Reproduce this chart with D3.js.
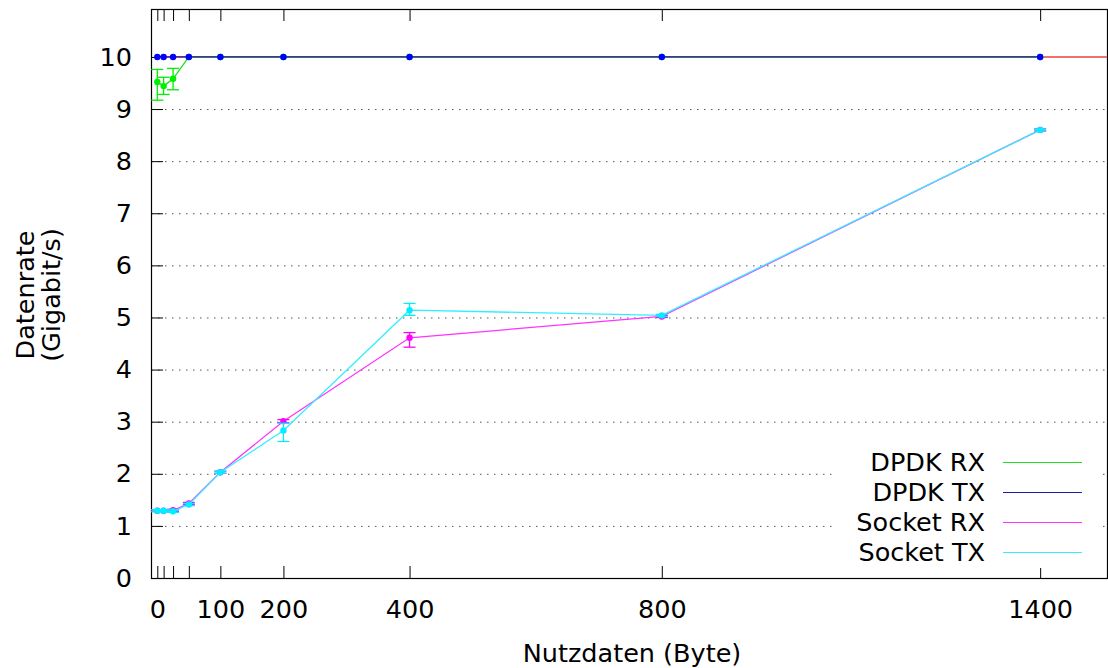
<!DOCTYPE html>
<html>
<head>
<meta charset="utf-8">
<script src="https://cdn.jsdelivr.net/npm/d3@7"></script>
<style>
  html, body { margin: 0; padding: 0; background: #fff; }
  svg { display: block; font-family: "DejaVu Sans", sans-serif; }
</style>
</head>
<body>
<svg id="chart" width="1108" height="668"></svg>
<script>
// Payload sizes (bytes) at which throughput was measured
const payloadSizes = [0, 10, 25, 50, 100, 200, 400, 800, 1400];
const labeledTicks = [0, 100, 200, 400, 800, 1400];
const yTicks = [0, 1, 2, 3, 4, 5, 6, 7, 8, 9, 10];

// Throughput in Gbit/s, with lower/upper bounds of the error bars
const dpdkRx    = [9.52, 9.44, 9.58, 10, 10, 10, 10, 10, 10];
const dpdkRxLo  = [9.17, 9.28, 9.37, 10, 10, 10, 10, 10, 10];
const dpdkRxHi  = [9.76, 9.61, 9.78, 10, 10, 10, 10, 10, 10];

const dpdkTx    = [10, 10, 10, 10, 10, 10, 10, 10, 10];

const socketRx   = [1.29, 1.29, 1.30, 1.43, 2.03, 3.01, 4.61, 5.02, 8.60];
const socketRxLo = [1.28, 1.28, 1.28, 1.41, 2.01, 2.98, 4.43, 5.00, 8.58];
const socketRxHi = [1.31, 1.31, 1.32, 1.45, 2.05, 3.04, 4.71, 5.04, 8.62];

const socketTx   = [1.29, 1.29, 1.28, 1.41, 2.03, 2.83, 5.14, 5.04, 8.60];
const socketTxLo = [1.27, 1.27, 1.26, 1.39, 2.01, 2.62, 5.04, 5.02, 8.58];
const socketTxHi = [1.31, 1.31, 1.30, 1.43, 2.05, 2.97, 5.27, 5.06, 8.62];

// Line rate of the link
const linkRate = 10;

const svg = d3.select("#chart");
const plotLeft = 151, plotRight = 1107, plotTop = 9, plotBottom = 578;
const fontSize = "25.5px";

const x = d3.scaleLinear().domain([-10, 1506]).range([plotLeft, plotRight]);
const y = d3.scaleLinear().domain([0, 10.92]).range([plotBottom, plotTop]);

// Dotted horizontal grid
svg.append("g")
  .selectAll("line")
  .data(yTicks.filter(d => d > 0 && d < 10))
  .join("line")
  .attr("x1", plotLeft).attr("x2", plotRight)
  .attr("y1", d => y(d) + 0.5).attr("y2", d => y(d) + 0.5)
  .attr("stroke", "#555")
  .attr("stroke-width", 1)
  .attr("stroke-dasharray", "1.5,5.5");

// Axes (ticks drawn inward, gnuplot style)
const xAxis = d3.axisBottom(x).tickValues(payloadSizes).tickSize(-12)
  .tickFormat(d => labeledTicks.includes(d) ? d : "");
const gx = svg.append("g").attr("transform", `translate(0,${plotBottom})`).call(xAxis);
gx.select(".domain").remove();
gx.selectAll(".tick line").attr("stroke", "#000");
gx.selectAll(".tick text").attr("y", 40).attr("dy", 0)
  .style("font-size", fontSize).style("font-family", "DejaVu Sans, sans-serif").attr("fill", "#000");

const xAxisTop = d3.axisTop(x).tickValues(payloadSizes).tickSize(-12).tickFormat("");
const gxt = svg.append("g").attr("transform", `translate(0,${plotTop})`).call(xAxisTop);
gxt.select(".domain").remove();
gxt.selectAll(".tick line").attr("stroke", "#000");

const yAxis = d3.axisLeft(y).tickValues(yTicks).tickSize(-12).tickPadding(19);
const gy = svg.append("g").attr("transform", `translate(${plotLeft},0)`).call(yAxis);
gy.select(".domain").remove();
gy.selectAll(".tick line").attr("stroke", "#000");
gy.selectAll(".tick text")
  .style("font-size", fontSize).style("font-family", "DejaVu Sans, sans-serif").attr("fill", "#000");

// Border
svg.append("rect")
  .attr("x", plotLeft + 0.5).attr("y", plotTop + 0.5)
  .attr("width", plotRight - plotLeft).attr("height", plotBottom - plotTop)
  .attr("fill", "none").attr("stroke", "#000").attr("stroke-width", 1.2);

// Axis titles
svg.append("text")
  .attr("x", 632).attr("y", 662)
  .attr("text-anchor", "middle")
  .style("font-size", fontSize)
  .text("Nutzdaten (Byte)");

const yTitle = svg.append("text")
  .attr("transform", "translate(0,295) rotate(-90)")
  .attr("text-anchor", "middle")
  .style("font-size", fontSize);
yTitle.append("tspan").attr("x", 0).attr("y", 34).text("Datenrate");
yTitle.append("tspan").attr("x", 0).attr("y", 60).text("(Gigabit/s)");

// Link-rate reference line
svg.append("line")
  .attr("x1", x(payloadSizes[0])).attr("x2", plotRight)
  .attr("y1", y(linkRate)).attr("y2", y(linkRate))
  .attr("stroke", "#f07070").attr("stroke-width", 2);

const series = [
  { name: "DPDK RX",   vals: dpdkRx,   lo: dpdkRxLo,   hi: dpdkRxHi,   line: "#22dd22", point: "#00ee00" },
  { name: "DPDK TX",   vals: dpdkTx,   lo: dpdkTx,     hi: dpdkTx,     line: "#1c1ca8", point: "#0000ff" },
  { name: "Socket RX", vals: socketRx, lo: socketRxLo, hi: socketRxHi, line: "#ff33ff", point: "#ff00ff" },
  { name: "Socket TX", vals: socketTx, lo: socketTxLo, hi: socketTxHi, line: "#33eeff", point: "#00eeff" }
];

const line = d3.line().x(d => x(d.x)).y(d => y(d.y));

series.forEach(s => {
  const pts = payloadSizes.map((p, i) => ({ x: p, y: s.vals[i], lo: s.lo[i], hi: s.hi[i] }));
  const g = svg.append("g");
  g.append("path")
    .datum(pts)
    .attr("d", line)
    .attr("fill", "none")
    .attr("stroke", s.line)
    .attr("stroke-width", 1.3);
  // error bars
  const eb = g.selectAll(".eb").data(pts.filter(d => d.hi > d.lo)).join("g");
  eb.append("line")
    .attr("x1", d => x(d.x)).attr("x2", d => x(d.x))
    .attr("y1", d => y(d.lo)).attr("y2", d => y(d.hi))
    .attr("stroke", s.point).attr("stroke-width", 1.3);
  [d => d.lo, d => d.hi].forEach(f => {
    eb.append("line")
      .attr("x1", d => x(d.x) - 6).attr("x2", d => x(d.x) + 6)
      .attr("y1", d => y(f(d))).attr("y2", d => y(f(d)))
      .attr("stroke", s.point).attr("stroke-width", 1.3);
  });
  g.selectAll("circle").data(pts).join("circle")
    .attr("cx", d => x(d.x)).attr("cy", d => y(d.y))
    .attr("r", 3.2).attr("fill", s.point);
});

// Legend with opaque background
const legend = svg.append("g");
legend.append("rect")
  .attr("x", 836).attr("y", 446).attr("width", 262).attr("height", 122)
  .attr("fill", "#fff");
series.forEach((s, i) => {
  const cy = 462 + i * 30;
  legend.append("text")
    .attr("x", 985).attr("y", cy).attr("dy", "0.36em")
    .attr("text-anchor", "end")
    .style("font-size", fontSize)
    .text(s.name);
  legend.append("line")
    .attr("x1", 1003).attr("x2", 1082)
    .attr("y1", cy + 0.5).attr("y2", cy + 0.5)
    .attr("stroke", s.line).attr("stroke-width", 1.2);
});
</script>
</body>
</html>
